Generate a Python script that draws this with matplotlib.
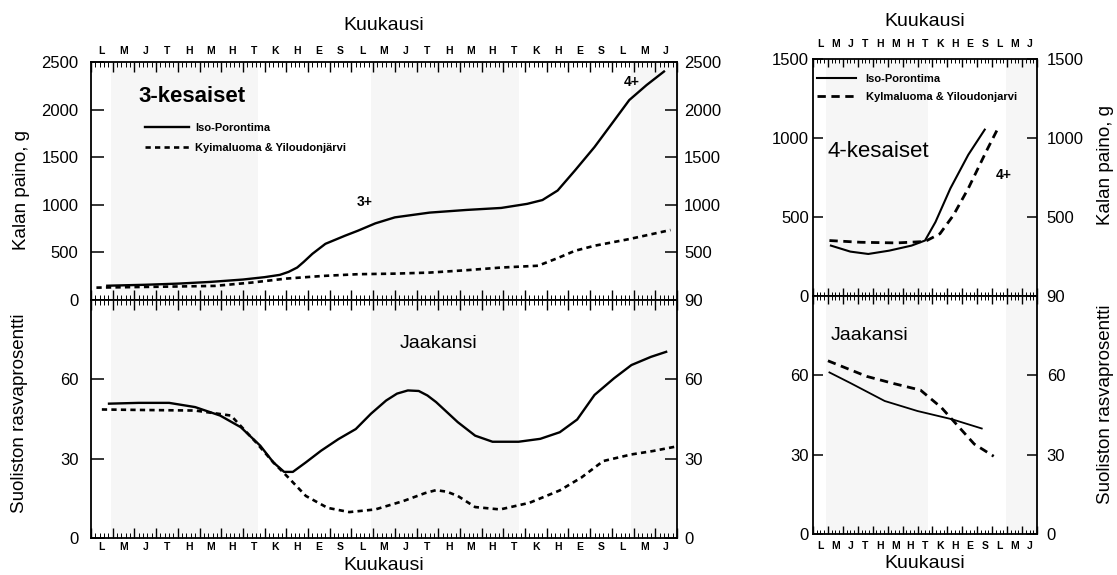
import matplotlib.pyplot as plt
import numpy as np
from matplotlib.ticker import MultipleLocator

plt.rcParams['font.family'] = ['Liberation Sans', 'DejaVu Sans']

# month letters, first month = lokakuu
MONTHS_3 = list("LMJTHMHTKHES") * 2 + list("LMJ")
MONTHS_4 = list("LMJTHMHTKHES") + list("LMJ")

# ice cover periods in month units
ICE_3 = [(0.9, 7.7), (12.9, 19.7), (24.9, 27.0)]
ICE_4 = [(0.9, 7.7), (12.9, 15.0)]

# 3-kesaiset, weight (g)
w3_iso_x = [0.75, 2.5, 4.0, 5.5, 7.0, 8.0, 8.7, 9.1, 9.5, 9.8, 10.2, 10.8, 11.7, 12.3, 13.1,
            14.0, 15.6, 17.3, 18.9, 20.1, 20.8, 21.5, 22.3, 23.2, 24.0, 24.8, 25.6, 26.4]
w3_iso_y = [150, 160, 172, 190, 215, 240, 264, 295, 341, 400, 485, 590, 675, 728, 805,
            868, 918, 946, 967, 1010, 1050, 1150, 1361, 1607, 1853, 2100, 2258, 2400]
w3_kyl_x = [0.25, 2.4, 4.0, 5.7, 7.4, 9.0, 10.7, 12.3, 14.0, 15.6, 17.3, 18.9,
            20.6, 21.5, 22.3, 23.2, 24.8, 26.7]
w3_kyl_y = [130, 137, 142, 148, 183, 225, 253, 271, 277, 288, 313, 341,
            360, 440, 517, 570, 640, 735]

# 3-kesaiset, gut fat (%)
f3_iso_x = [0.83, 2.2, 3.6, 4.8, 5.95, 6.9, 7.8, 8.4, 8.9, 9.3, 9.9, 10.6, 11.4,
            12.2, 12.9, 13.6, 14.1, 14.6, 15.1, 15.5, 15.9, 16.9, 17.7, 18.5, 19.7, 20.7,
            21.6, 22.4, 23.2, 24.1, 24.9, 25.8, 26.5]
f3_iso_y = [50.8, 51.1, 51.1, 49.5, 46.3, 41.9, 34.9, 28.6, 25.0, 25.0, 28.6, 33.0, 37.4,
            41.2, 47.0, 52.0, 54.6, 55.8, 55.6, 53.9, 51.4, 43.8, 38.7, 36.4, 36.4, 37.5,
            40.0, 44.8, 54.1, 60.4, 65.4, 68.5, 70.4]
f3_kyl_x = [0.5, 2.5, 4.8, 6.45, 7.6, 8.4, 9.1, 9.9, 10.9, 11.9, 13.1, 14.4, 15.4, 15.9,
            16.4, 16.9, 17.7, 18.85, 20.2, 21.6, 22.6, 23.6, 24.9, 25.9, 26.9]
f3_kyl_y = [48.6, 48.4, 48.2, 46.3, 36.2, 28.6, 22.8, 15.9, 11.4, 9.8, 10.8, 14.0, 17.0, 18.1,
            17.5, 15.9, 11.7, 10.8, 13.3, 18.0, 22.9, 29.1, 31.6, 32.9, 34.5]

# 4-kesaiset, weight (g)
w4_iso_x = [1.2, 2.5, 3.7, 5.1, 6.6, 7.5, 8.2, 9.2, 10.4, 11.5]
w4_iso_y = [319, 281, 266, 287, 319, 351, 468, 681, 894, 1053]
w4_kyl_x = [1.1, 3.2, 5.6, 7.5, 8.5, 9.4, 10.4, 11.6, 12.4]
w4_kyl_y = [351, 340, 336, 345, 394, 511, 681, 915, 1064]

# 4-kesaiset, gut fat (%)
f4_iso_x = [1.1, 2.5, 4.8, 7.0, 9.3, 11.3]
f4_iso_y = [61.1, 57.1, 50.3, 46.5, 43.4, 39.9]
f4_kyl_x = [1.0, 3.6, 5.4, 7.2, 8.6, 9.7, 10.8, 12.1]
f4_kyl_y = [65.5, 59.6, 56.9, 54.4, 47.8, 40.9, 34.0, 29.4]

W, H = 1117, 575
fig = plt.figure(figsize=(W / 100, H / 100), dpi=100)


def rect(x0, x1, y0, y1):
    # pixel box (top-left origin) -> figure fraction
    return [x0 / W, 1 - y1 / H, (x1 - x0) / W, (y1 - y0) / H]


def month_ticks(ax, n, nsub, mlen, slen):
    ax.set_xlim(0, n)
    ax.xaxis.set_major_locator(MultipleLocator(1))
    ax.xaxis.set_minor_locator(MultipleLocator(1 / nsub))
    ax.tick_params(axis='x', which='both', direction='in', top=True, bottom=True,
                   labelbottom=False, labeltop=False)
    ax.tick_params(axis='x', which='major', length=mlen, width=1.0)
    ax.tick_params(axis='x', which='minor', length=slen, width=0.7)


def month_letters(ax, letters, side, pad):
    sec = ax.secondary_xaxis(side)
    sec.set_xticks(np.arange(len(letters)) + 0.5)
    sec.set_xticklabels(letters, fontsize=7.5, fontweight='bold')
    sec.tick_params(length=0, pad=pad)
    sec.spines[side].set_visible(False)


def y_ticks(ax, left, right, lpad, rpad, tlen):
    ax.set_yticks(left)
    ax.set_yticklabels([str(v) for v in left])
    ax.tick_params(axis='y', direction='in', left=True, right=False, length=tlen,
                   width=1.1, labelsize=12, pad=lpad)
    sec = ax.secondary_yaxis('right')
    sec.set_yticks(right)
    sec.set_yticklabels([str(v) for v in right])
    sec.tick_params(direction='in', length=tlen, width=1.1, labelsize=12, pad=rpad)
    sec.spines['right'].set_visible(False)


def shade(ax, spans):
    for a, b in spans:
        ax.axvspan(a, b, color='#f6f6f6', lw=0, zorder=0)


def frame(ax):
    for s in ax.spines.values():
        s.set_linewidth(1.3)


# ---------- 3-kesaiset ----------
ax1 = fig.add_axes(rect(91, 677, 62, 300))
ax2 = fig.add_axes(rect(91, 677, 300, 538))
for ax in (ax1, ax2):
    shade(ax, ICE_3)
    month_ticks(ax, 27, 5, 7, 3.5)
    frame(ax)

l1, = ax1.plot(w3_iso_x, w3_iso_y, color='black', lw=1.7, label='Iso-Porontima')
l2, = ax1.plot(w3_kyl_x, w3_kyl_y, color='black', lw=1.9, ls=(0, (2, 1.6)),
               label='Kyimaluoma & Yiloudonjärvi')
ax1.set_ylim(0, 2500)
y_ticks(ax1, [0, 500, 1000, 1500, 2000, 2500], [500, 1000, 1500, 2000, 2500], 9, 5, 9)
month_letters(ax1, MONTHS_3, 'top', 4)
ax1.text(2.2, 2134, '3-kesaiset', fontsize=16, fontweight='bold', va='center')
ax1.text(12.6, 1030, '3+', fontsize=10, fontweight='bold', ha='center', va='center')
ax1.text(24.9, 2290, '4+', fontsize=10, fontweight='bold', ha='center', va='center')
ax1.legend(handles=[l1, l2], loc='upper left', bbox_to_anchor=(0.0926, 0.745),
           frameon=False, prop={'weight': 'bold', 'size': 8},
           borderpad=0, borderaxespad=0, handlelength=3.9, handletextpad=0.6,
           labelspacing=0.9)

ax2.plot(f3_iso_x, f3_iso_y, color='black', lw=1.7)
ax2.plot(f3_kyl_x, f3_kyl_y, color='black', lw=1.9, ls=(0, (2, 1.6)))
ax2.set_ylim(0, 90)
y_ticks(ax2, [0, 30, 60], [0, 30, 60, 90], 9, 5, 9)
month_letters(ax2, MONTHS_3, 'bottom', 3)
ax2.text(16.0, 73.6, 'Jaakansi', fontsize=14, ha='center', va='center')

# ---------- 4-kesaiset ----------
ax3 = fig.add_axes(rect(813, 1037, 59, 296))
ax4 = fig.add_axes(rect(813, 1037, 296, 534))
for ax in (ax3, ax4):
    shade(ax, ICE_4)
    month_ticks(ax, 15, 4, 6, 3)
    frame(ax)

l3, = ax3.plot(w4_iso_x, w4_iso_y, color='black', lw=1.5, label='Iso-Porontima')
l4, = ax3.plot(w4_kyl_x, w4_kyl_y, color='black', lw=2.0, ls=(0, (3, 2)),
               label='Kylmaluoma & Yiloudonjarvi')
ax3.set_ylim(0, 1500)
y_ticks(ax3, [0, 500, 1000, 1500], [500, 1000, 1500], 3, 7, 7)
month_letters(ax3, MONTHS_4, 'top', 7)
ax3.text(1.0, 915, '4-kesaiset', fontsize=16, va='center')
ax3.text(12.8, 766, '4+', fontsize=10, fontweight='bold', ha='center', va='center')
ax3.legend(handles=[l3, l4], loc='upper left', bbox_to_anchor=(0.017, 0.937),
           frameon=False, prop={'weight': 'bold', 'size': 8},
           borderpad=0, borderaxespad=0, handlelength=3.5, handletextpad=0.9,
           labelspacing=0.75)

ax4.plot(f4_iso_x, f4_iso_y, color='black', lw=1.3)
ax4.plot(f4_kyl_x, f4_kyl_y, color='black', lw=2.0, ls=(0, (3, 2)))
ax4.set_ylim(0, 90)
y_ticks(ax4, [0, 30, 60], [0, 30, 60, 90], 3, 7, 7)
month_letters(ax4, MONTHS_4, 'bottom', 5)
ax4.text(1.2, 75.2, 'Jaakansi', fontsize=14, va='center')

# axis titles
fig.text(384 / W, 1 - 25 / H, 'Kuukausi', fontsize=14, ha='center', va='center')
fig.text(384 / W, 1 - 566 / H, 'Kuukausi', fontsize=14, ha='center', va='center')
fig.text(925 / W, 1 - 22 / H, 'Kuukausi', fontsize=14, ha='center', va='center')
fig.text(925 / W, 1 - 563 / H, 'Kuukausi', fontsize=14, ha='center', va='center')

fig.text(22 / W, 1 - 190 / H, 'Kalan paino, g', fontsize=13.5, rotation=90,
         ha='center', va='center')
fig.text(20 / W, 1 - 413 / H, 'Suoliston rasvaprosentti', fontsize=13.5, rotation=90,
         ha='center', va='center')
fig.text(1106 / W, 1 - 165 / H, 'Kalan paino, g', fontsize=13.5, rotation=90,
         ha='center', va='center')
fig.text(1106 / W, 1 - 404 / H, 'Suoliston rasvaprosentti', fontsize=13.5, rotation=90,
         ha='center', va='center')

fig.savefig('out.png', dpi=100)
